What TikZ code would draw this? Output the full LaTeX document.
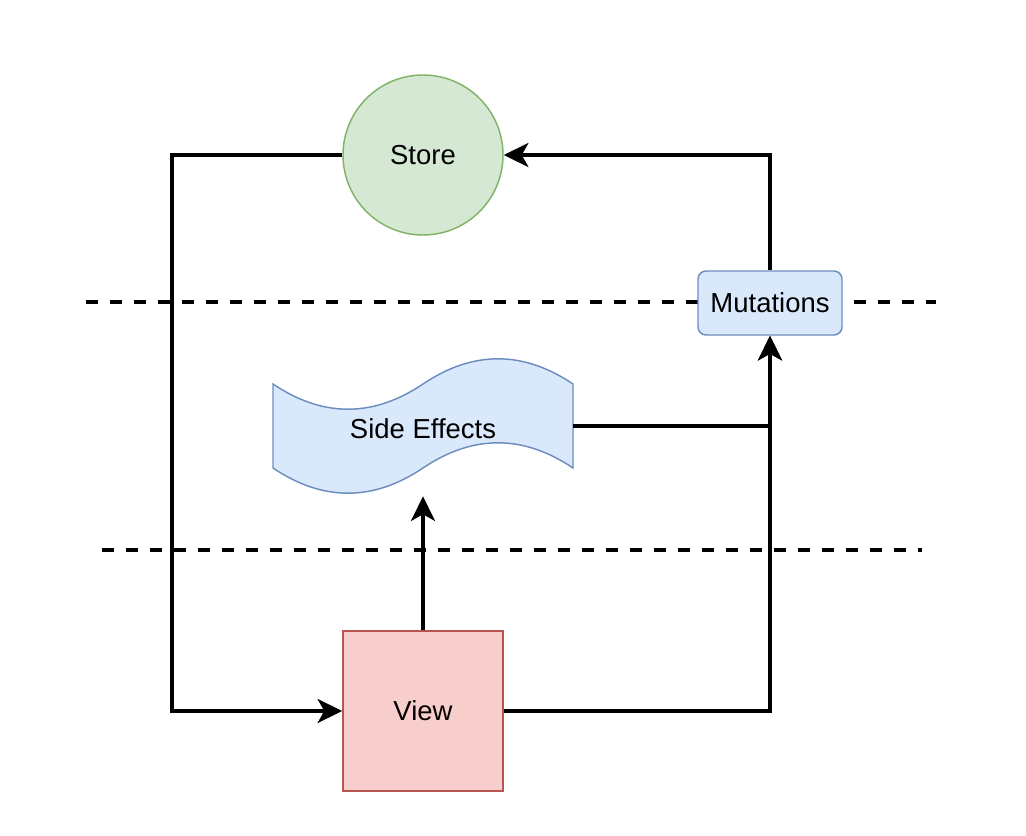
\documentclass[tikz,border=0pt]{standalone}
\usepackage{fontspec}
\setmainfont{Liberation Sans}
\usetikzlibrary{arrows.meta}
\definecolor{storefill}{HTML}{D5E8D4}
\definecolor{storeline}{HTML}{82B366}
\definecolor{bluefill}{HTML}{DAE8FC}
\definecolor{blueline}{HTML}{6C8EBF}
\definecolor{viewfill}{HTML}{F8CECC}
\definecolor{viewline}{HTML}{B85450}
\tikzset{
  lbl/.style={font=\fontsize{20.6}{24}\selectfont, text=black},
  storebox/.style={lbl, circle, draw=storeline, fill=storefill, line width=1.1pt, minimum size=120pt, inner sep=0pt},
  mutbox/.style={lbl, rectangle, rounded corners=6pt, draw=blueline, fill=bluefill, line width=1.1pt, minimum width=108pt, minimum height=48pt, inner sep=0pt},
  viewbox/.style={lbl, rectangle, draw=viewline, fill=viewfill, line width=1.1pt, minimum size=120pt, inner sep=0pt},
  sebox/.style={lbl, rectangle, minimum width=225pt, minimum height=105pt, inner sep=0pt},
  tape/.style={draw=blueline, fill=bluefill, line width=1.1pt},
  conn/.style={line width=2.4pt, draw=black},
  arr/.style={conn, -{Stealth[length=18.5pt, width=18pt, inset=5pt]}},
  dashline/.style={line width=2.4pt, dash pattern=on 9pt off 9pt}
}
\begin{document}
\begin{tikzpicture}[x=0.75pt, y=-0.75pt]
\useasboundingbox (0,0) rectangle (1026,836);
% dashed separators
\coordinate (d1a) at (86,302);
\coordinate (d1b) at (936,302);
\coordinate (d2a) at (102,550);
\coordinate (d2b) at (922,550);
\draw[dashline] (d1a) -- (d1b);
\draw[dashline] (d2a) -- (d2b);
% side effects tape shape
\draw[tape] (273,384) .. controls (323,417.6) and (373,417.6) .. (423,384)
  .. controls (473,350.4) and (523,350.4) .. (573,384)
  -- (573,468)
  .. controls (523,434.4) and (473,434.4) .. (423,468)
  .. controls (373,501.6) and (323,501.6) .. (273,468) -- cycle;
\node[sebox] (se) at (423,426) {};
\node[lbl] (setext) at (423,429) {Side Effects};
% nodes
\node[storebox] (store) at (423,155) {Store};
\node[mutbox] (mut) at (770,303) {Mutations};
\node[viewbox] (view) at (423,711) {View};
\coordinate (L) at (172,711);
% connectors
\draw[arr] (store.west) -| (L) -- (view.west);
\draw[arr] (mut.north) |- (store.east);
\draw[arr] (view.north) -- (se.south);
\draw[arr] (se.east) -| (mut.south);
\draw[arr] (view.east) -| (mut.south);
\end{tikzpicture}
\end{document}
